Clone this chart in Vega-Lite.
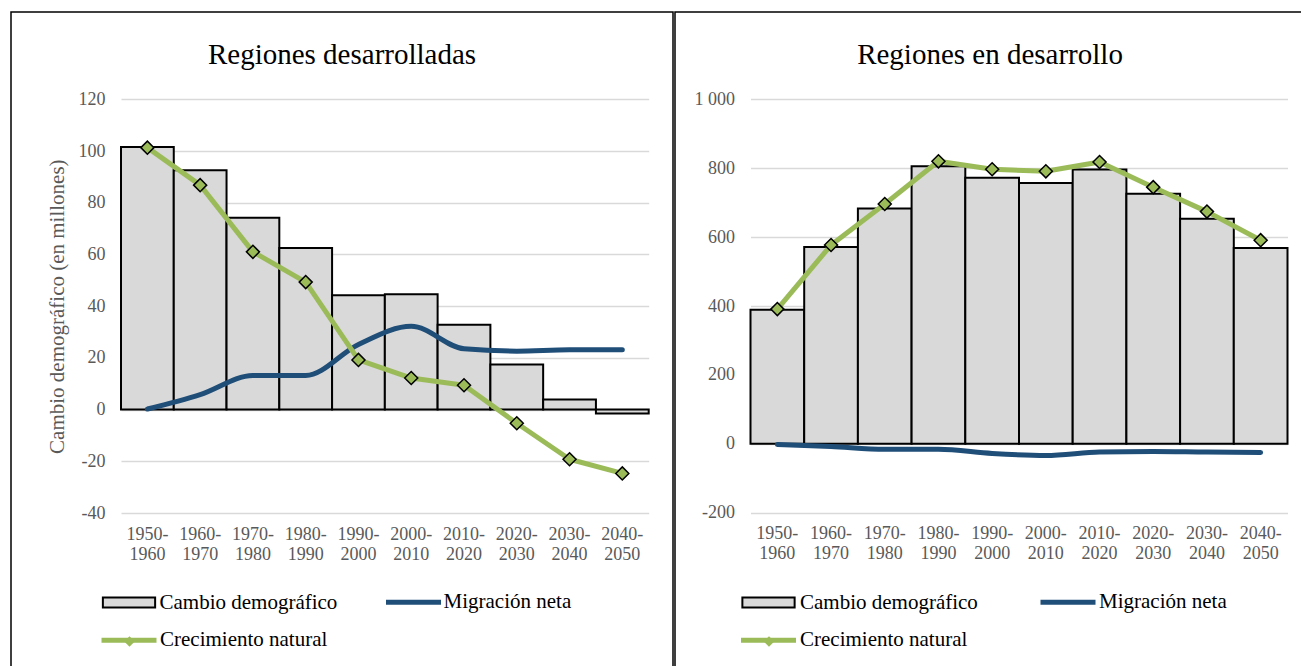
{
  "$schema": "https://vega.github.io/schema/vega-lite/v6.json",
  "background": "white",
  "padding": {"left": 10, "top": 11, "right": -5, "bottom": -2},
  "config": {
    "view": {"stroke": "black", "strokeWidth": 1.5},
    "font": "Liberation Serif",
    "axis": {"labelFont": "Liberation Serif", "titleFont": "Liberation Serif"},
    "legend": {"labelFont": "Liberation Serif", "labelFontSize": 21, "labelColor": "black", "labelLimit": 400, "title": null, "padding": 0, "orient": "none"}
  },
  "resolve": {
    "scale": {"fill": "independent", "stroke": "independent", "color": "independent", "shape": "independent"},
    "legend": {"fill": "independent", "stroke": "independent", "color": "independent", "shape": "independent"}
  },
  "datasets": {
    "desarrolladas": [
      {"periodo": "1950-1960", "cambio": 101.6, "migracion": 0.2, "natural": 101.3},
      {"periodo": "1960-1970", "cambio": 92.6, "migracion": 5.8, "natural": 86.8},
      {"periodo": "1970-1980", "cambio": 74.2, "migracion": 13.2, "natural": 61.0},
      {"periodo": "1980-1990", "cambio": 62.5, "migracion": 13.2, "natural": 49.3},
      {"periodo": "1990-2000", "cambio": 44.2, "migracion": 25.2, "natural": 19.2},
      {"periodo": "2000-2010", "cambio": 44.6, "migracion": 32.2, "natural": 12.2},
      {"periodo": "2010-2020", "cambio": 32.8, "migracion": 23.5, "natural": 9.4},
      {"periodo": "2020-2030", "cambio": 17.4, "migracion": 22.6, "natural": -5.3},
      {"periodo": "2030-2040", "cambio": 3.9, "migracion": 23.1, "natural": -19.2},
      {"periodo": "2040-2050", "cambio": -1.5, "migracion": 23.1, "natural": -24.7}
    ],
    "endesarrollo": [
      {"periodo": "1950-1960", "cambio": 389, "migracion": -2, "natural": 391},
      {"periodo": "1960-1970", "cambio": 571, "migracion": -8, "natural": 577},
      {"periodo": "1970-1980", "cambio": 683, "migracion": -16, "natural": 696},
      {"periodo": "1980-1990", "cambio": 806, "migracion": -16, "natural": 820},
      {"periodo": "1990-2000", "cambio": 772, "migracion": -28, "natural": 797},
      {"periodo": "2000-2010", "cambio": 757, "migracion": -34, "natural": 791},
      {"periodo": "2010-2020", "cambio": 796, "migracion": -24, "natural": 818},
      {"periodo": "2020-2030", "cambio": 726, "migracion": -22, "natural": 745},
      {"periodo": "2030-2040", "cambio": 653, "migracion": -24, "natural": 674},
      {"periodo": "2040-2050", "cambio": 568, "migracion": -25, "natural": 591}
    ]
  },
  "spacing": 0,
  "hconcat": [
    {
      "width": 662, "height": 656,
      "data": {"name": "desarrolladas"},
      "title": {"text": "Regiones desarrolladas", "font": "Liberation Serif", "fontSize": 29, "fontWeight": "normal", "color": "black", "anchor": "middle", "frame": "bounds", "offset": -58},
      "layer": [
        {
          "mark": {"type": "bar", "stroke": "black", "strokeWidth": 2, "opacity": 1},
          "encoding": {
            "x": {"field": "periodo", "type": "nominal", "sort": null, "title": null,
              "scale": {"range": [110, 637.7], "paddingInner": 0, "paddingOuter": 0},
              "axis": {"offset": -155, "labelAngle": 0, "labelExpr": "[slice(datum.label, 0, 5), slice(datum.label, 5)]", "labelFontSize": 18, "labelColor": "#595959", "labelPadding": 12, "labelLineHeight": 20, "domain": false, "ticks": false, "tickSize": 0, "grid": false}},
            "y": {"field": "cambio", "type": "quantitative", "title": "Cambio demográfico (en millones)",
              "scale": {"domain": [-40, 120], "range": [501, 87.3], "nice": false, "zero": false},
              "axis": {"offset": -110, "values": [-40, -20, 0, 20, 40, 60, 80, 100, 120], "labelExpr": "toString(datum.value)", "labelFontSize": 18, "labelColor": "#595959", "labelPadding": 16, "ticks": false, "tickSize": 0, "domain": false, "grid": true, "gridColor": "#d9d9d9", "gridWidth": 1.5, "titleFontSize": 21, "titleFontWeight": "normal", "titleColor": "#595959", "titlePadding": 11}},
            "fill": {"datum": "Cambio demográfico", "type": "nominal",
              "scale": {"range": ["#d9d9d9"]},
              "legend": {"legendX": 89.5, "legendY": 562, "symbolType": "M-0.95,-0.18H0.95V0.18H-0.95Z", "symbolSize": 3025, "symbolStrokeWidth": 2, "symbolStrokeColor": "black", "labelOffset": 2}}
          }
        },
        {
          "mark": {"type": "line", "strokeWidth": 5, "strokeCap": "round", "strokeJoin": "round", "interpolate": "monotone"},
          "encoding": {
            "x": {"field": "periodo", "type": "nominal", "sort": null, "title": null},
            "y": {"field": "migracion", "type": "quantitative", "title": "Cambio demográfico (en millones)"},
            "stroke": {"datum": "Migración neta", "type": "nominal",
              "scale": {"range": ["#1f4e79"]},
              "legend": {"legendX": 372.5, "legendY": 560.3, "symbolType": "M-1,0H1", "symbolSize": 3025, "symbolStrokeWidth": 5, "labelOffset": 0}}
          }
        },
        {
          "mark": {"type": "line", "strokeWidth": 5, "strokeCap": "round", "strokeJoin": "round"},
          "encoding": {
            "x": {"field": "periodo", "type": "nominal", "sort": null, "title": null},
            "y": {"field": "natural", "type": "quantitative", "title": "Cambio demográfico (en millones)"},
            "color": {"datum": "Crecimiento natural", "type": "nominal",
              "scale": {"range": ["#9bbb59"]},
              "legend": {"legendX": 88, "legendY": 598.3, "symbolType": "M-1,0H1", "symbolSize": 3025, "symbolStrokeWidth": 5, "labelOffset": 1}}
          }
        },
        {
          "mark": {"type": "point", "filled": true, "fill": "#9bbb59", "stroke": "black", "strokeWidth": 1.5, "size": 170, "opacity": 1},
          "encoding": {
            "x": {"field": "periodo", "type": "nominal", "sort": null, "title": null},
            "y": {"field": "natural", "type": "quantitative", "title": "Cambio demográfico (en millones)"},
            "shape": {"datum": "c", "type": "nominal",
              "scale": {"domain": ["c"], "range": ["diamond"]},
              "legend": {"legendX": 108, "legendY": 619, "symbolSize": 110, "symbolFillColor": "#9bbb59", "symbolStrokeColor": "black", "symbolStrokeWidth": 1.5, "labelOffset": 0, "labelOpacity": 0, "labelExpr": "''"}}
          }
        }
      ]
    },
    {
      "width": 630, "height": 656,
      "data": {"name": "endesarrollo"},
      "title": {"text": "Regiones en desarrollo", "font": "Liberation Serif", "fontSize": 29, "fontWeight": "normal", "color": "black", "anchor": "middle", "frame": "bounds", "offset": -58},
      "layer": [
        {
          "mark": {"type": "bar", "stroke": "black", "strokeWidth": 2, "opacity": 1},
          "encoding": {
            "x": {"field": "periodo", "type": "nominal", "sort": null, "title": null,
              "scale": {"range": [75.5, 612.5], "paddingInner": 0, "paddingOuter": 0},
              "axis": {"offset": -155.3, "labelAngle": 0, "labelExpr": "[slice(datum.label, 0, 5), slice(datum.label, 5)]", "labelFontSize": 18, "labelColor": "#595959", "labelPadding": 12, "labelLineHeight": 20, "domain": false, "ticks": false, "tickSize": 0, "grid": false}},
            "y": {"field": "cambio", "type": "quantitative", "title": null,
              "scale": {"domain": [-200, 1000], "range": [500.7, 87.3], "nice": false, "zero": false},
              "axis": {"offset": -75.5, "values": [-200, 0, 200, 400, 600, 800, 1000], "labelExpr": "abs(datum.value) >= 1000 ? replace(format(datum.value, ','), ',', ' ') : toString(datum.value)", "labelFontSize": 18, "labelColor": "#595959", "labelPadding": 16, "ticks": false, "tickSize": 0, "domain": false, "grid": true, "gridColor": "#d9d9d9", "gridWidth": 1.5}},
            "fill": {"datum": "Cambio demográfico", "type": "nominal",
              "scale": {"range": ["#d9d9d9"]},
              "legend": {"legendX": 65, "legendY": 562, "symbolType": "M-0.95,-0.18H0.95V0.18H-0.95Z", "symbolSize": 3025, "symbolStrokeWidth": 2, "symbolStrokeColor": "black", "labelOffset": 3}}
          }
        },
        {
          "mark": {"type": "line", "strokeWidth": 5, "strokeCap": "round", "strokeJoin": "round", "interpolate": "monotone"},
          "encoding": {
            "x": {"field": "periodo", "type": "nominal", "sort": null, "title": null},
            "y": {"field": "migracion", "type": "quantitative", "title": null},
            "stroke": {"datum": "Migración neta", "type": "nominal",
              "scale": {"range": ["#1f4e79"]},
              "legend": {"legendX": 363, "legendY": 560.3, "symbolType": "M-1,0H1", "symbolSize": 3025, "symbolStrokeWidth": 5, "labelOffset": 1}}
          }
        },
        {
          "mark": {"type": "line", "strokeWidth": 5, "strokeCap": "round", "strokeJoin": "round"},
          "encoding": {
            "x": {"field": "periodo", "type": "nominal", "sort": null, "title": null},
            "y": {"field": "natural", "type": "quantitative", "title": null},
            "color": {"datum": "Crecimiento natural", "type": "nominal",
              "scale": {"range": ["#9bbb59"]},
              "legend": {"legendX": 63.5, "legendY": 598.3, "symbolType": "M-1,0H1", "symbolSize": 3025, "symbolStrokeWidth": 5, "labelOffset": 1.5}}
          }
        },
        {
          "mark": {"type": "point", "filled": true, "fill": "#9bbb59", "stroke": "black", "strokeWidth": 1.5, "size": 170, "opacity": 1},
          "encoding": {
            "x": {"field": "periodo", "type": "nominal", "sort": null, "title": null},
            "y": {"field": "natural", "type": "quantitative", "title": null},
            "shape": {"datum": "c", "type": "nominal",
              "scale": {"domain": ["c"], "range": ["diamond"]},
              "legend": {"legendX": 83.5, "legendY": 619, "symbolSize": 110, "symbolFillColor": "#9bbb59", "symbolStrokeColor": "black", "symbolStrokeWidth": 1.5, "labelOffset": 0, "labelOpacity": 0, "labelExpr": "''"}}
          }
        }
      ]
    }
  ]
}
